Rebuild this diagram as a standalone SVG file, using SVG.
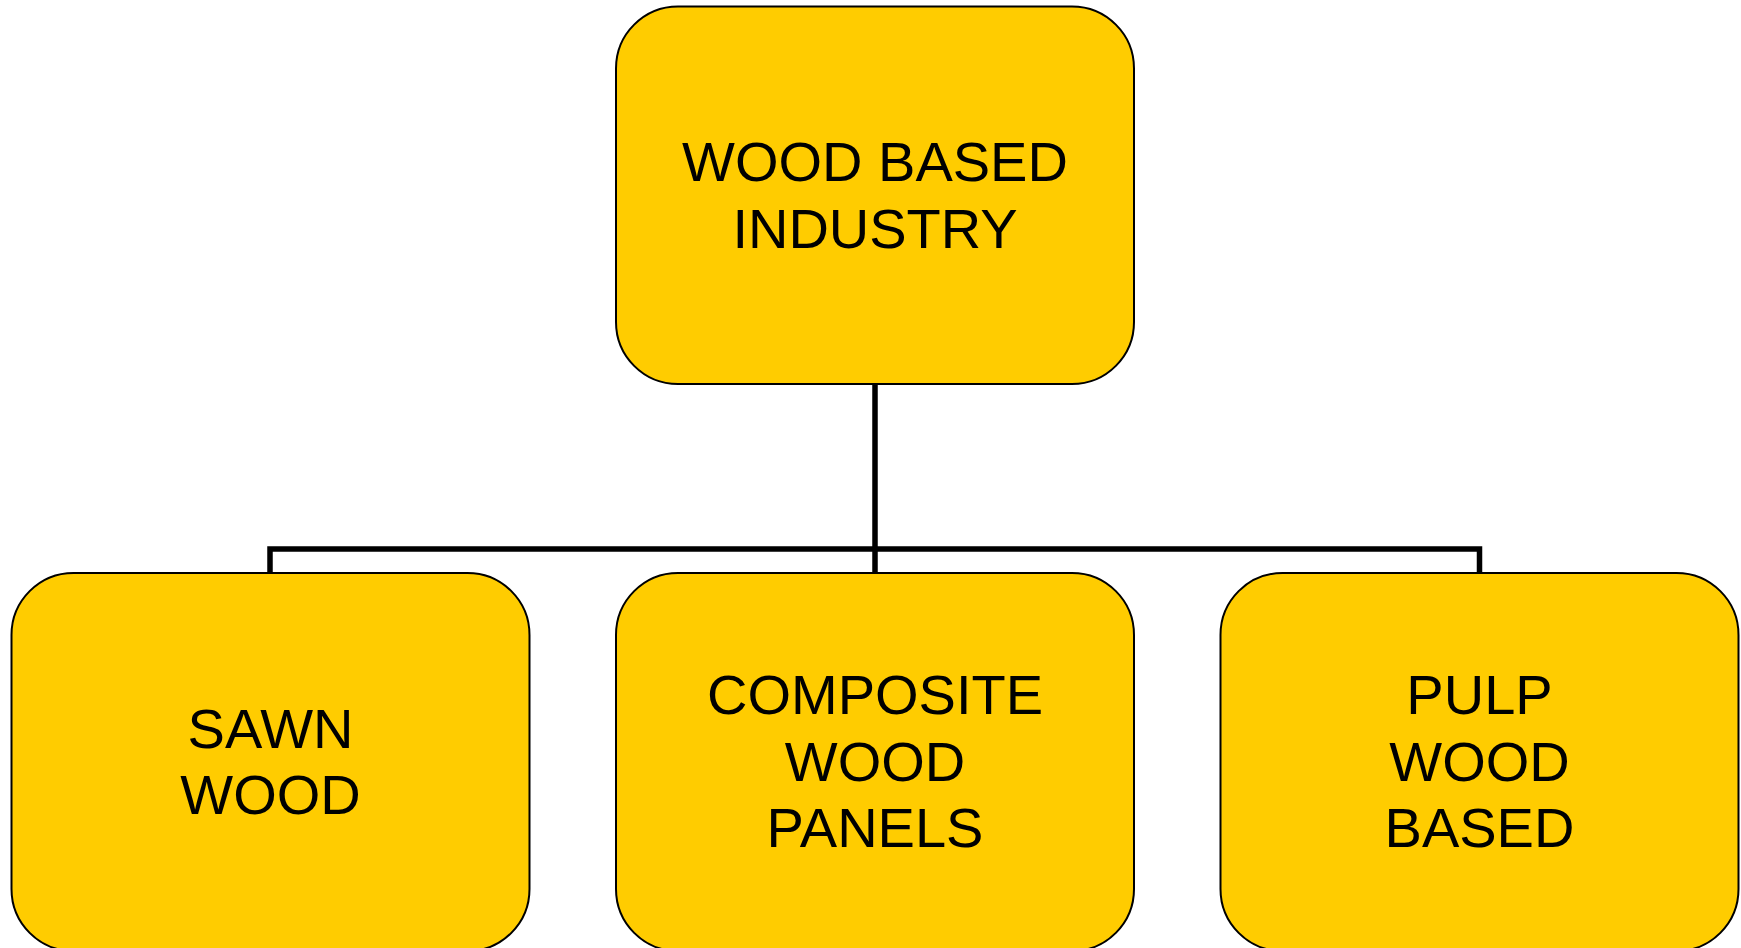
<svg xmlns="http://www.w3.org/2000/svg" width="1741" height="948" viewBox="0 0 1741 948">
<style>
.box{fill:#FFCC00;stroke:#000;stroke-width:2}
.lbl{font-family:"Liberation Sans",Arial,Helvetica,sans-serif;font-size:56px;fill:#000;text-anchor:middle}
.conn{fill:none;stroke:#000;stroke-width:5.5;stroke-linejoin:miter;stroke-linecap:butt}
</style>
<rect width="1741" height="948" fill="#fff"/>
<g id="connectors">
<path class="conn" d="M875 384 V573 M270 573 V549 H1479.5 V573"/>
</g>
<g id="node-root">
<rect class="box" x="616" y="6.5" width="518" height="377.5" rx="62" ry="62"/>
<text class="lbl" x="875" y="181">WOOD BASED</text>
<text class="lbl" x="875" y="247.5">INDUSTRY</text>
</g>
<g id="node-sawn">
<rect class="box" x="11.5" y="573" width="518" height="378" rx="62" ry="62"/>
<text class="lbl" x="270.5" y="747.5">SAWN</text>
<text class="lbl" x="270.5" y="814">WOOD</text>
</g>
<g id="node-composite">
<rect class="box" x="616" y="573" width="518" height="378" rx="62" ry="62"/>
<text class="lbl" x="875" y="713.5">COMPOSITE</text>
<text class="lbl" x="875" y="780.5">WOOD</text>
<text class="lbl" x="875" y="847">PANELS</text>
</g>
<g id="node-pulp">
<rect class="box" x="1220.5" y="573" width="518" height="378" rx="62" ry="62"/>
<text class="lbl" x="1479.5" y="713.5">PULP</text>
<text class="lbl" x="1479.5" y="780.5">WOOD</text>
<text class="lbl" x="1479.5" y="847">BASED</text>
</g>
</svg>
